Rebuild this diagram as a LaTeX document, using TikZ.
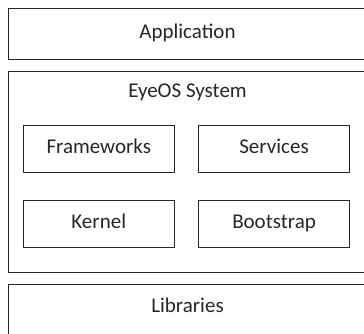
\documentclass[tikz,border=0pt]{standalone}
\usepackage{fontspec}
\setmainfont{Carlito}
\usepackage{tikz}
\usetikzlibrary{positioning}

\begin{document}
\begin{tikzpicture}[font=\fontsize{21pt}{25pt}\selectfont,
      every node/.style={draw=black!85, line width=1pt, text=black!85, outer sep=0pt},
      layer/.style={rectangle, minimum width=358.4pt, inner ysep=0pt},
      part/.style={rectangle, minimum width=151.5pt, minimum height=47.3pt,
        text height=14pt, text depth=5pt}]
    \useasboundingbox (0,0) rectangle (364pt,-333pt);
    \clip (0,0) rectangle (364pt,-333pt);
    % stacked layers, titles sit near the top edge
    \node[layer, text height=29.6pt, text depth=21.4pt] (app) at (187.5pt,-34.2pt) {Application};
    \node[layer, text height=26.3pt, text depth=174.7pt, below=11.3pt of app] (sys) {EyeOS System};
    \node[layer, text height=28.7pt, text depth=22.3pt, below=12pt of sys] (lib) {Libraries};
    % parts of the system
    \node[part, below right=54pt and 14.7pt of sys.north west] (fw) {Frameworks};
    \node[part, right=23.8pt of fw] (srv) {Services};
    \node[part, below=27.7pt of fw] (kern) {Kernel};
    \node[part, right=23.8pt of kern] (boot) {Bootstrap};
\end{tikzpicture}
\end{document}
